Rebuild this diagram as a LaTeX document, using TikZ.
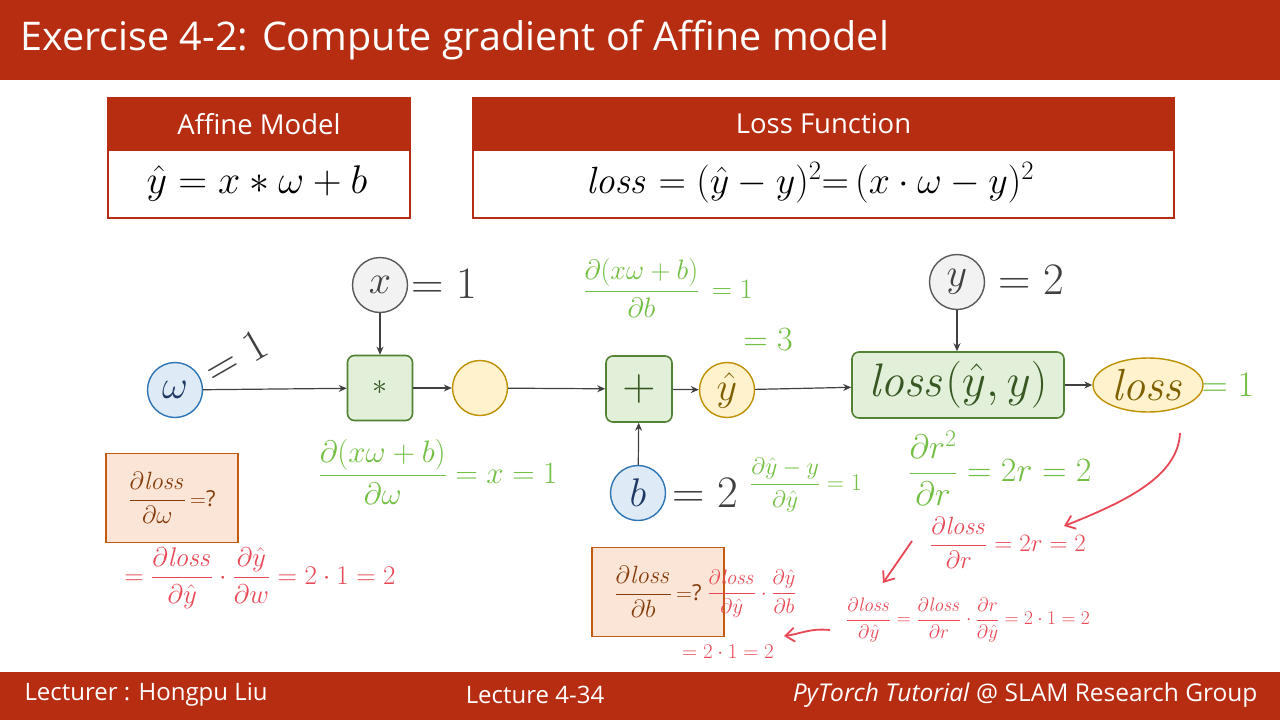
\RequirePackage{fix-cm}
\documentclass[tikz,border=0pt]{standalone}
\usepackage{amsmath}
\usepackage[no-math]{fontspec}
\setmainfont{Open Sans}
\usetikzlibrary{arrows.meta,shapes.geometric}
\definecolor{barred}{HTML}{B72D12}
\definecolor{gfill}{HTML}{E2F0D9}
\definecolor{gline}{HTML}{548235}
\definecolor{gtext}{HTML}{385723}
\definecolor{yfill}{HTML}{FFF2CC}
\definecolor{yline}{HTML}{BF9000}
\definecolor{ytext}{HTML}{7F6000}
\definecolor{bfill}{HTML}{DEEBF7}
\definecolor{bline}{HTML}{2E75B6}
\definecolor{btext}{HTML}{1F3864}
\definecolor{kfill}{HTML}{F2F2F2}
\definecolor{kline}{HTML}{595959}
\definecolor{ktext}{HTML}{404040}
\definecolor{ofill}{HTML}{FBE5D6}
\definecolor{oline}{HTML}{C55A11}
\definecolor{otext}{HTML}{843C0C}
\definecolor{handg}{HTML}{72BF44}
\definecolor{handr}{HTML}{E84855}
\newcommand{\fs}[1]{\fontsize{#1}{#1}\selectfont}
\tikzset{
  hdr/.style={fill=barred, draw=barred, text=white, inner sep=0pt, font=\fs{27.5}},
  bodybox/.style={fill=white, draw=barred, line width=1.5pt, inner sep=0pt, text=black},
  opbox/.style={draw=gline, fill=gfill, line width=1.6pt, rounded corners=7pt, text=gtext, inner sep=0pt},
  varblue/.style={circle, draw=bline, fill=bfill, line width=1.4pt, minimum size=55pt, inner sep=0pt, text=btext, font=\fs{40}},
  vargray/.style={circle, draw=kline, fill=kfill, line width=1.4pt, minimum size=55pt, inner sep=0pt, text=ktext, font=\fs{40}},
  varyel/.style={circle, draw=yline, fill=yfill, line width=1.4pt, minimum size=55pt, inner sep=0pt, text=ytext, font=\fs{40}},
  qbox/.style={draw=oline, fill=ofill, line width=1.4pt, minimum width=132pt, minimum height=89pt, inner sep=0pt, text=otext, font=\fs{25}},
  arr/.style={draw=ktext, line width=1.2pt, -{Stealth[length=8pt,width=7pt]}},
  val/.style={text=ktext, font=\fs{45}},
  hg/.style={text=handg, font=\fs{24}},
  hr/.style={text=handr, font=\fs{20}},
  harr/.style={draw=handr, line width=1.8pt, -{Straight Barb[length=9pt,width=14pt]}},
}
\begin{document}
\begin{tikzpicture}[x=1pt,y=-1pt]
\useasboundingbox (0,0) rectangle (1280,720);
\fill[white] (0,0) rectangle (1280,720);
% title bar
\fill[barred] (0,0) rectangle (1280,80);
\node[anchor=west, text=white, font=\fs{39.5}] (title) at (17,40) {Exercise 4-2: Compute gradient of Affine model};
% footer
\fill[barred] (0,672) rectangle (1280,720);
\node[anchor=west, text=white, font=\fs{24}] (lect) at (21,695) {Lecturer : Hongpu Liu};
\node[text=white, font=\fs{24}] (lnum) at (535,695) {Lecture 4-34};
\node[anchor=east, text=white, font=\fs{24.5}] (grp) at (1261,695) {\textit{PyTorch Tutorial} @ SLAM Research Group};
% formula boxes
\node[bodybox, minimum width=302pt, minimum height=120pt] (affB) at (259,158) {};
\node[hdr, minimum width=302pt, minimum height=52pt] (affH) at (259,124) {Affine Model};
\node[font=\fs{40}] (affF) at (257,183) {$\hat{y} = x * \omega + b$};
\node[bodybox, minimum width=701pt, minimum height=120pt] (lossB) at (823.5,158) {};
\node[hdr, minimum width=701pt, minimum height=52pt] (lossH) at (823.5,124) {Loss Function};
\node[font=\fs{38}] (lossF) at (810,183) {$\mathit{loss} = (\hat{y}-y)^2 {=} \,(x\cdot\omega - y)^2$};
% graph nodes
\node[varblue] (w) at (175,390) {$\omega$};
\node[vargray] (x) at (380,285) {$x$};
\node[opbox, minimum width=65pt, minimum height=65pt, font=\fs{30}] (mul) at (380,388) {$*$};
\node[varyel] (mid) at (480,388) {};
\node[opbox, minimum width=66pt, minimum height=66pt, font=\fs{46}] (add) at (639,389) {$+$};
\node[varblue] (b) at (638,493) {$b$};
\node[varyel] (yh) at (727,390) {$\hat{y}$};
\node[vargray] (y) at (957,282) {$y$};
\node[opbox, minimum width=212pt, minimum height=66pt, font=\fs{47}] (lossop) at (958,385) {$\mathit{loss}(\hat{y},y)$};
\node[ellipse, draw=yline, fill=yfill, line width=1.4pt, minimum width=110pt, minimum height=54pt, inner sep=0pt, text=ytext, font=\fs{45}] (loss) at (1148,385) {$\mathit{loss}$};
% values
\node[val, rotate=30] (wv) at (236,357) {$=1$};
\node[val] (xv) at (444,284) {$=1$};
\node[val] (yv) at (1031,280) {$=2$};
\node[val] (bv) at (705,493) {$=2$};
% arrows
\draw[arr] (w) -- (mul);
\draw[arr] (x) -- (mul);
\draw[arr] (mul) -- (mid);
\draw[arr] (mid) -- (add);
\draw[arr] (b) -- (add);
\draw[arr] (add) -- (yh);
\draw[arr] (yh) -- (lossop);
\draw[arr] (y) -- (lossop.north -| y);
\draw[arr] (lossop) -- (loss);
% question boxes
\node[qbox] (qw) at (172,498) {$\dfrac{\partial \mathit{loss}}{\partial \omega}$\,{\fs{22}$=$?}};
\node[qbox] (qb) at (658,592) {$\dfrac{\partial \mathit{loss}}{\partial b}$\,{\fs{22}$=$?}};
% green handwritten notes
\node[hg, font=\fs{28}] (g1) at (668,288) {$\dfrac{\partial(x\omega+b)}{\partial b}\,=1$};
\node[hg, font=\fs{34}] (g2) at (768,340) {$=3$};
\node[hg, font=\fs{31}] (g3) at (438,472) {$\dfrac{\partial(x\omega+b)}{\partial \omega}=x=1$};
\node[hg] (g4) at (806,485) {$\dfrac{\partial \hat{y}-y}{\partial \hat{y}}=1$};
\node[hg, font=\fs{34}] (g5) at (1000,468) {$\dfrac{\partial r^2}{\partial r}=2r=2$};
\node[hg, font=\fs{36}] (g6) at (1228,385) {$=1$};
% red handwritten notes
\node[hr, font=\fs{27}] (r1) at (260,578) {$=\dfrac{\partial \mathit{loss}}{\partial \hat{y}}\cdot\dfrac{\partial \hat{y}}{\partial w}=2\cdot1=2$};
\node[hr, font=\fs{25}] (r2) at (1008,543) {$\dfrac{\partial \mathit{loss}}{\partial r}=2r=2$};
\node[hr, font=\fs{19.5}] (r3) at (968,620) {$\dfrac{\partial \mathit{loss}}{\partial \hat{y}}=\dfrac{\partial \mathit{loss}}{\partial r}\cdot\dfrac{\partial r}{\partial \hat{y}}=2\cdot1=2$};
\node[hr, font=\fs{21}] (r4) at (752,594) {$\dfrac{\partial \mathit{loss}}{\partial \hat{y}}\cdot\dfrac{\partial \hat{y}}{\partial b}$};
\node[hr, font=\fs{21}] (r5) at (728,652) {$=2\cdot1=2$};
\coordinate (c1s) at (1180,433);
\coordinate (c1e) at (1064,526);
\coordinate (c2s) at (912,541);
\coordinate (c2e) at (883,583);
\coordinate (c3s) at (830,630);
\coordinate (c3e) at (784,636);
\draw[harr] (c1s) .. controls (1178,475) and (1130,500) .. (c1e);
\draw[harr] (c2s) -- (c2e);
\draw[harr] (c3s) .. controls (810,628) and (800,634) .. (c3e);
\end{tikzpicture}
\end{document}
